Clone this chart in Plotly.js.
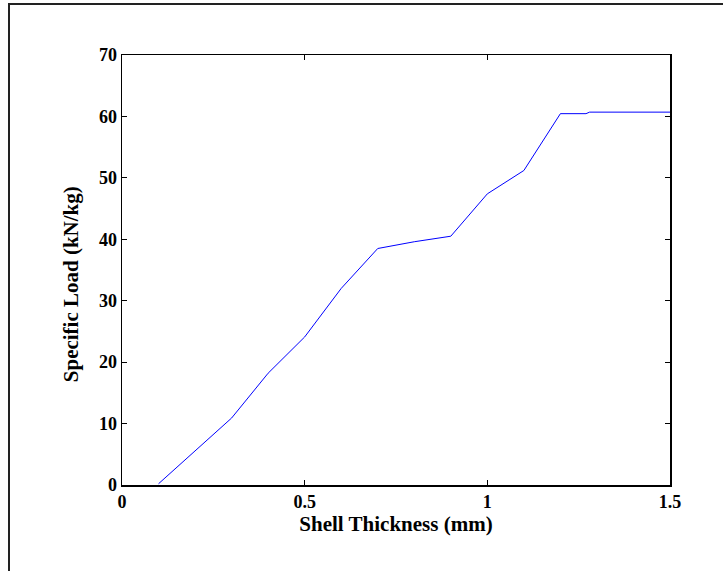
<!DOCTYPE html>
<html>
<head>
<meta charset="utf-8">
<script src="https://cdn.plot.ly/plotly-3.0.1.min.js"></script>
<style>
html,body{margin:0;padding:0;background:#fff;overflow:hidden;}
#frame{position:absolute;left:8px;top:3px;width:800px;height:700px;border:2px solid #222;box-sizing:border-box;pointer-events:none;z-index:5;}
#chart{position:absolute;left:0;top:0;width:723px;height:571px;}
</style>
</head>
<body>
<div id="chart"></div>
<div id="frame"></div>
<script>
const thickness = [0.1, 0.2, 0.3, 0.4, 0.5, 0.6, 0.7, 0.8, 0.9, 1.0, 1.1, 1.2, 1.27, 1.28, 1.4, 1.5];
const specificLoad = [0.2, 5.6, 10.9, 18.2, 24.1, 32.0, 38.5, 39.6, 40.5, 47.4, 51.2, 60.45, 60.45, 60.7, 60.7, 60.7];
const xTickVals = [0, 0.5, 1, 1.5];
const xTickText = ['0', '0.5', '1', '1.5'];
const yTickVals = [0, 10, 20, 30, 40, 50, 60, 70];
const xTitle = 'Shell Thickness (mm)';
const yTitle = 'Specific Load (kN/kg)';

const fam = 'Liberation Serif, Times New Roman, serif';

Plotly.newPlot('chart', [{
  x: thickness, y: specificLoad, type: 'scatter', mode: 'lines',
  line: {color: '#0000ff', width: 1}, hoverinfo: 'none'
}], {
  width: 723, height: 571,
  margin: {l: 122, r: 53, t: 55, b: 86},
  paper_bgcolor: '#fff', plot_bgcolor: '#fff',
  showlegend: false,
  font: {family: fam, size: 18, color: '#000'},
  xaxis: {
    range: [0, 1.5], tickvals: xTickVals, ticktext: xTickText,
    ticks: 'inside', ticklen: 5, tickwidth: 1, tickcolor: '#000',
    showline: true, linecolor: '#000', linewidth: 1.5, mirror: 'ticks',
    showgrid: false, zeroline: false,
    tickfont: {family: fam, size: 18, color: '#000', weight: 'bold'},
    title: {text: '<b>' + xTitle + '</b>', font: {family: fam, size: 21, color: '#000'}, standoff: 2}
  },
  yaxis: {
    range: [0, 70], tickvals: yTickVals,
    ticks: 'inside', ticklen: 5, tickwidth: 1, tickcolor: '#000',
    showline: true, linecolor: '#000', linewidth: 1.5, mirror: 'ticks',
    showgrid: false, zeroline: false,
    tickfont: {family: fam, size: 18, color: '#000', weight: 'bold'}
  },
  annotations: [{
    text: '<b>' + yTitle + '</b>', xref: 'paper', yref: 'paper',
    x: -0.093, y: 0.467, xanchor: 'center', yanchor: 'middle',
    textangle: -90, showarrow: false,
    font: {family: fam, size: 21, color: '#000'}
  }]
}, {staticPlot: true});
</script>
</body>
</html>
